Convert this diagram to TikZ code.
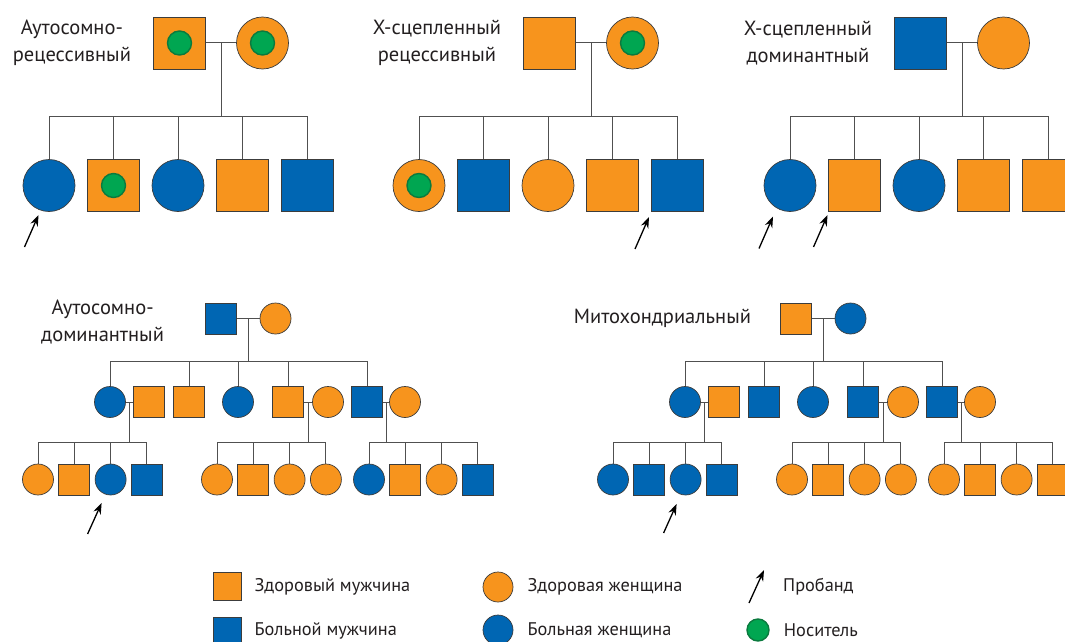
\documentclass[tikz,border=0pt]{standalone}
\usepackage{fontspec}
\setmainfont{PT Sans}
\usetikzlibrary{arrows.meta,calc,positioning}
\definecolor{orng}{HTML}{F7941D}
\definecolor{blu}{HTML}{0066B3}
\definecolor{grn}{HTML}{00A651}
\definecolor{grndk}{HTML}{0B7A3E}
\definecolor{rim}{HTML}{3C3C3C}
\definecolor{wire}{HTML}{505050}
\definecolor{ink}{HTML}{231F20}

\begin{document}
\begin{tikzpicture}[x=1pt,y=-1pt,
  male/.style={rectangle,draw=rim,line width=.7pt,inner sep=0pt},
  female/.style={circle,draw=rim,line width=.7pt,inner sep=0pt},
  hm/.style={male,fill=orng}, am/.style={male,fill=blu},
  hf/.style={female,fill=orng}, af/.style={female,fill=blu},
  carrier/.style={circle,fill=grn,draw=grndk,line width=1.4pt,inner sep=0pt,minimum size=24pt},
  link/.style={draw=wire,line width=1pt},
  proband/.style={draw=black,line width=1.3pt,-{Stealth[length=11pt,width=8pt]}},
  heading/.style={font=\fontsize{20.5}{27}\selectfont,text=ink,align=center,inner sep=0pt,minimum size=0pt},
  legtext/.style={font=\fontsize{18.3}{20}\selectfont,text=ink,inner sep=0pt,minimum size=0pt}]

\clip (0,0) rectangle (1065,642);

\begin{scope}[xshift=49pt, every node/.append style={minimum size=52pt}]
\node[hm] (f) at (130.5,43) {};
\node[hf] (m) at (213.5,43) {};
\node[carrier] (fc) at (f) {};
\node[carrier] (mc) at (m) {};
\node[heading,left=22pt of f] (ttl) {Аутосомно-\\рецессивный};
\coordinate (mid) at ($(f.east)!.5!(m.west)$);
\coordinate (sib) at (0,116);
\foreach \t [count=\i from 0] in {af,hm,af,hm,am}
  \node[\t] (k\i) at (64.5*\i,185.5) {};
\node[carrier] (kc) at (k1) {};
\draw[link] (f) -- (m) (mid) -- (mid |- sib);
\draw[link] (k0.north) -- (k0.north |- sib) -- (k4.north |- sib) -- (k4.north);
\foreach \i in {1,2,3} \draw[link] (k\i.north) -- (k\i.north |- sib);
\draw[proband] (k0) ++(-24.5,61.5) -- ++(14,-32);
\end{scope}

\begin{scope}[xshift=419pt, every node/.append style={minimum size=52pt}]
\node[hm] (f) at (130.5,43) {};
\node[hf] (m) at (213.5,43) {};
\node[carrier] (mc) at (m) {};
\node[heading,left=22pt of f] (ttl) {Х-сцепленный\\рецессивный};
\coordinate (mid) at ($(f.east)!.5!(m.west)$);
\coordinate (sib) at (0,116);
\foreach \t [count=\i from 0] in {hf,am,hf,hm,am}
  \node[\t] (k\i) at (64.5*\i,185.5) {};
\node[carrier] (kc) at (k0) {};
\draw[link] (f) -- (m) (mid) -- (mid |- sib);
\draw[link] (k0.north) -- (k0.north |- sib) -- (k4.north |- sib) -- (k4.north);
\foreach \i in {1,2,3} \draw[link] (k\i.north) -- (k\i.north |- sib);
\draw[proband] (k4) ++(-42,63.5) -- ++(14,-32);
\end{scope}

\begin{scope}[xshift=790pt, every node/.append style={minimum size=52pt}]
\node[am] (f) at (130.5,43) {};
\node[hf] (m) at (213.5,43) {};
\node[heading,left=22pt of f] (ttl) {Х-сцепленный\\доминантный};
\coordinate (mid) at ($(f.east)!.5!(m.west)$);
\coordinate (sib) at (0,116);
\foreach \t [count=\i from 0] in {af,hm,af,hm,hm}
  \node[\t] (k\i) at (64.5*\i,185.5) {};
\draw[link] (f) -- (m) (mid) -- (mid |- sib);
\draw[link] (k0.north) -- (k0.north |- sib) -- (k4.north |- sib) -- (k4.north);
\foreach \i in {1,2,3} \draw[link] (k\i.north) -- (k\i.north |- sib);
\draw[proband] (k0) ++(-31,63) -- ++(14,-32);
\draw[proband] (k1) ++(-41,61.5) -- ++(14,-32);
\end{scope}

\begin{scope}[every node/.append style={minimum size=31pt}]
\node[am] (f) at (221,318.5) {};
\node[hf] (m) at (275.5,318.5) {};
\node[heading,left=41pt of f,yshift=-4pt] (ttl) {Аутосомно-\\доминантный};
\coordinate (mid) at ($(f.east)!.5!(m.west)$);
\coordinate (sib) at (0,361);
\coordinate (sub) at (0,442);
\foreach \t/\x [count=\i] in {af/110,hm/189,af/238,hm/288,am/367}
  \node[\t] (c\i) at (\x,402) {};
\node[hm] (s1) at (149,402) {};
\node[hf] (s4) at (328,402) {};
\node[hf] (s5) at (405,402) {};
\foreach \t [count=\i from 0] in {hf,hm,af,am} \node[\t] (p\i) at (38+36.3*\i,479.5) {};
\foreach \t [count=\i from 0] in {hf,hm,hf,hf} \node[\t] (q\i) at (217+36.3*\i,479.5) {};
\foreach \t [count=\i from 0] in {af,hm,hf,am} \node[\t] (r\i) at (369+36.3*\i,479.5) {};
\draw[link] (f) -- (m) (mid) -- (mid |- sib);
\draw[link] (c1.north) -- (c1.north |- sib) -- (c5.north |- sib) -- (c5.north);
\foreach \i in {2,3,4} \draw[link] (c\i.north) -- (c\i.north |- sib);
\draw[link] (c1) -- (s1) (c4) -- (s4) (c5) -- (s5);
\foreach \a/\b/\k in {c1/s1/p,c4/s4/q,c5/s5/r} {
  \coordinate (mm) at ($(\a.east)!.5!(\b.west)$);
  \draw[link] (mm) -- (mm |- sub);
  \draw[link] (\k0.north) -- (\k0.north |- sub) -- (\k3.north |- sub) -- (\k3.north);
  \draw[link] (\k1.north) -- (\k1.north |- sub) (\k2.north) -- (\k2.north |- sub);
}
\draw[proband] (p2) ++(-23,54.5) -- ++(14,-31);
\end{scope}

\begin{scope}[xshift=575pt, every node/.append style={minimum size=31pt}]
\node[hm] (f) at (221,318.5) {};
\node[af] (m) at (275.5,318.5) {};
\node[heading,left=29pt of f] (ttl) {Митохондриальный};
\coordinate (mid) at ($(f.east)!.5!(m.west)$);
\coordinate (sib) at (0,361);
\coordinate (sub) at (0,442);
\foreach \t/\x [count=\i] in {af/110,am/189,af/238,am/288,am/367}
  \node[\t] (c\i) at (\x,402) {};
\node[hm] (s1) at (149,402) {};
\node[hf] (s4) at (328,402) {};
\node[hf] (s5) at (405,402) {};
\foreach \t [count=\i from 0] in {af,am,af,am} \node[\t] (p\i) at (38+36.3*\i,479.5) {};
\foreach \t [count=\i from 0] in {hf,hm,hf,hf} \node[\t] (q\i) at (217+36.3*\i,479.5) {};
\foreach \t [count=\i from 0] in {hf,hm,hf,hm} \node[\t] (r\i) at (369+36.3*\i,479.5) {};
\draw[link] (f) -- (m) (mid) -- (mid |- sib);
\draw[link] (c1.north) -- (c1.north |- sib) -- (c5.north |- sib) -- (c5.north);
\foreach \i in {2,3,4} \draw[link] (c\i.north) -- (c\i.north |- sib);
\draw[link] (c1) -- (s1) (c4) -- (s4) (c5) -- (s5);
\foreach \a/\b/\k in {c1/s1/p,c4/s4/q,c5/s5/r} {
  \coordinate (mm) at ($(\a.east)!.5!(\b.west)$);
  \draw[link] (mm) -- (mm |- sub);
  \draw[link] (\k0.north) -- (\k0.north |- sub) -- (\k3.north |- sub) -- (\k3.north);
  \draw[link] (\k1.north) -- (\k1.north |- sub) (\k2.north) -- (\k2.north |- sub);
}
\draw[proband] (p2) ++(-22,53.5) -- ++(13,-29);
\end{scope}

\node[hm,minimum size=28pt] (l1) at (227.5,586.5) {};
\node[legtext,right=12.5pt of l1] (l1t) {Здоровый мужчина};
\node[am,minimum size=28pt] (l2) at (227.5,631) {};
\node[legtext,right=12.5pt of l2] (l2t) {Больной мужчина};
\node[hf,minimum size=30pt] (l3) at (498,587) {};
\node[legtext,right=14pt of l3] (l3t) {Здоровая женщина};
\node[af,minimum size=30pt] (l4) at (498,630) {};
\node[legtext,right=14pt of l4] (l4t) {Больная женщина};
\coordinate (arrtail) at (749,603);
\coordinate (arrhead) at (764,570);
\draw[proband] (arrtail) -- (arrhead);
\node[legtext,anchor=west] (l5t) at (783,587) {Пробанд};
\node[carrier,minimum size=22pt] (l6) at (758,630) {};
\node[legtext,right=14pt of l6] (l6t) {Носитель};

\end{tikzpicture}
\end{document}
